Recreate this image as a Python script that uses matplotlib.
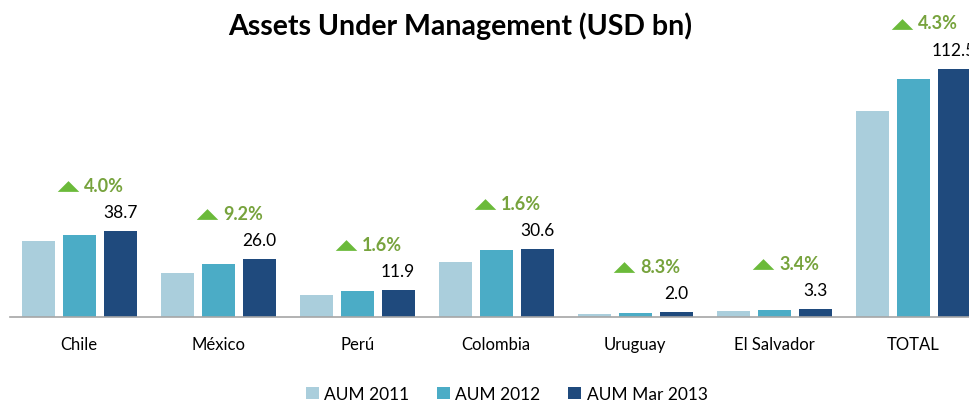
import matplotlib
matplotlib.use('Agg')
import matplotlib.pyplot as plt
import matplotlib.transforms as mtransforms
from matplotlib.path import Path
import numpy as np

plt.rcParams['font.family'] = ['Lato', 'DejaVu Sans']

# data
categories = ['Chile', 'México', 'Perú', 'Colombia', 'Uruguay', 'El Salvador', 'TOTAL']
aum_2011 = [34.3, 19.8, 9.6, 24.9, 1.2, 2.7, 93.5]
aum_2012 = [37.2, 23.8, 11.7, 30.1, 1.85, 3.2, 107.9]
aum_mar_2013 = [38.7, 26.0, 11.9, 30.6, 2.0, 3.3, 112.5]
growth = ['4.0%', '9.2%', '1.6%', '1.6%', '8.3%', '3.4%', '4.3%']
series_names = ['AUM 2011', 'AUM 2012', 'AUM Mar 2013']
colors = ['#AACEDC', '#4BACC6', '#1F4A7D']

fig = plt.figure(figsize=(9.69, 4.02), dpi=100)
# axes runs a little past the right edge, like the original slide crop
ax = fig.add_axes([0.0101, 0.21, 1.004, 0.657])

x = np.arange(len(categories))
width = 0.237
step = 0.295
for i, (vals, name, c) in enumerate(zip([aum_2011, aum_2012, aum_mar_2013], series_names, colors)):
    ax.bar(x + (i - 1) * step, vals, width, color=c, label=name, zorder=2)

ax.set_xlim(-0.5, len(categories) - 0.5)
ax.set_ylim(0, 120)

# value labels and growth markers above the latest bar
tri = Path([(-1, -0.5), (1, -0.5), (0, 0.5), (-1, -0.5)],
           [Path.MOVETO, Path.LINETO, Path.LINETO, Path.CLOSEPOLY])
tri_trans = mtransforms.offset_copy(ax.transData, fig=fig, x=-52, y=45, units='dots')
for xi, v, g in zip(x, aum_mar_2013, growth):
    xd = xi + step
    ax.annotate(f'{v:.1f}', (xd, v), xytext=(0, 19 / 1.389), textcoords='offset points',
                ha='center', va='center', fontsize=12.5, color='black', annotation_clip=False)
    ax.annotate(g, (xd, v), xytext=(-36 / 1.389, 46 / 1.389), textcoords='offset points',
                ha='left', va='center', fontsize=13, fontweight='bold', color='#77A33D',
                annotation_clip=False)
    ax.scatter([xd], [v], marker=tri, s=240, color='#6BBA3A', transform=tri_trans,
               clip_on=False, zorder=3, linewidths=0)

for s in ['top', 'right', 'left']:
    ax.spines[s].set_visible(False)
ax.spines['bottom'].set_color('#A6A6A6')
ax.spines['bottom'].set_linewidth(1.2)
ax.set_yticks([])
ax.set_xticks(x)
ax.set_xticklabels(categories, fontsize=12)
ax.tick_params(axis='x', length=0, pad=14)

fig.text(0.475, 0.935, 'Assets Under Management (USD bn)', ha='center', va='center',
         fontsize=20.5, fontweight='bold')

fig.legend(loc='center', bbox_to_anchor=(0.523, 0.017), ncol=3, frameon=False,
           fontsize=12.5, handlelength=0.75, handleheight=0.75, handletextpad=0.3,
           columnspacing=1.6)

fig.savefig('out.png', dpi=100)
